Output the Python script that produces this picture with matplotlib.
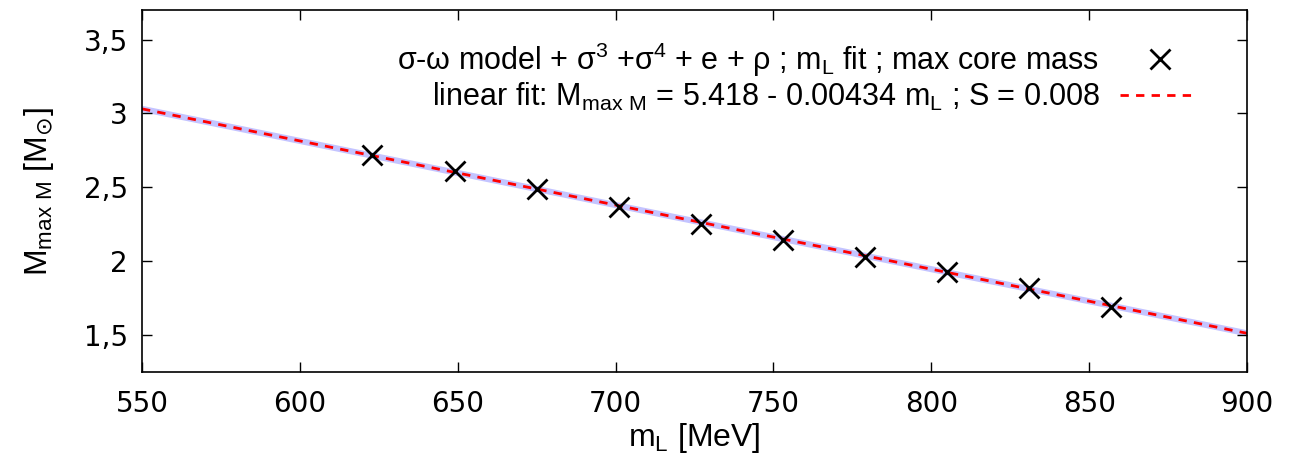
import matplotlib.pyplot as plt
import numpy as np

# core mass maximum vs. m_L
m_L = [623, 649, 675, 701, 727, 753, 779, 805, 831, 857]
M_max = [2.72, 2.61, 2.49, 2.37, 2.25, 2.14, 2.03, 1.93, 1.82, 1.69]

# linear fit parameters
fit_a = 5.418
fit_b = -0.00434
fit_S = 0.008

xticks = [550, 600, 650, 700, 750, 800, 850, 900]
yticks = [1.5, 2.0, 2.5, 3.0, 3.5]
ytick_labels = ['1,5', '2', '2,5', '3', '3,5']

plt.rcParams['font.family'] = ['DejaVu Sans']
plt.rcParams['axes.linewidth'] = 1.2

fig = plt.figure(figsize=(12.92, 4.65), dpi=100)
ax = fig.add_axes([142/1292, 1 - 372/465, (1247-142)/1292, (372-10)/465])

xf = np.array([550, 900])
yf = fit_a + fit_b * xf
ax.plot(xf, yf, color='#c4c4ff', lw=4.4, solid_capstyle='butt', zorder=1)
fit_line, = ax.plot(xf, yf, color='#ff0000', lw=2.0, dashes=(3.0, 2.6), zorder=2)
pts, = ax.plot(m_L, M_max, 'x', color='black', ms=15, mew=2, zorder=3)

ax.set_xlim(550, 900)
ax.set_ylim(1.25, 3.7)
ax.set_xticks(xticks)
ax.set_yticks(yticks)
ax.set_yticklabels(ytick_labels)
ax.tick_params(direction='in', length=7, width=1, top=True, right=True,
               labelsize=20)
ax.tick_params(axis='x', pad=13)
ax.tick_params(axis='y', pad=10)

lab_font = {'family': ['Liberation Sans', 'DejaVu Sans'], 'size': 23}
ax.set_xlabel(r'm$\mathregular{_L}$ [MeV]', fontdict=lab_font, labelpad=2)
ax.set_ylabel(r'M$\mathregular{_{max\ M}}$ [M$_⊙$]', fontdict=lab_font, labelpad=20)

leg_font = {'family': ['Liberation Sans', 'DejaVu Sans'], 'size': 22}
lab1 = (r'σ-ω model + σ$\mathregular{^3}$ +σ$\mathregular{^4}$ + e + ρ ; '
        r'm$\mathregular{_L}$ fit ; max core mass')
lab2 = (r'linear fit: M$\mathregular{_{max\ M}}$ = %.3f - %.5f m$\mathregular{_L}$ ; S = %.3f'
        % (fit_a, -fit_b, fit_S))

leg1 = ax.legend([pts], [lab1], loc='center right', bbox_to_anchor=(0.9347, 0.862),
                 frameon=False, markerfirst=False, prop=leg_font, handlelength=1.0,
                 handletextpad=1.49, borderaxespad=0, borderpad=0)
ax.add_artist(leg1)
ax.legend([fit_line], [lab2], loc='center right', bbox_to_anchor=(0.9548, 0.76),
          frameon=False, markerfirst=False, prop=leg_font, handlelength=2.52,
          handletextpad=0.65, borderaxespad=0, borderpad=0)

fig.savefig('out.png', dpi=100)
